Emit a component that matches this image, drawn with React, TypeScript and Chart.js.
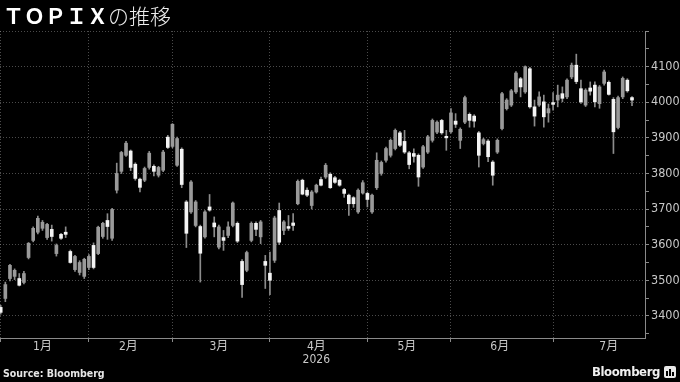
import React, { useEffect, useRef } from 'react';
import { Chart, registerables } from 'chart.js';

Chart.register(...registerables);

// Daily OHLC of TOPIX, trading days Jan–Jul 2026 (index = trading day)
const opens = [
  // Jan
  3424, 3449, 3505, 3511, 3505, 3494, 3564, 3612, 3635, 3646, 3620, 3643, 3575, 3629, 3635, 3581, 3530, 3522, 3511,
  // Feb
  3536, 3598, 3575, 3623, 3668, 3618, 3753, 3806, 3851, 3863, 3826, 3784, 3781, 3817, 3820, 3795, 3809, 3902,
  // Mar
  3876, 3823, 3868, 3720, 3692, 3654, 3651, 3622, 3706, 3661, 3593, 3620, 3626, 3654, 3660, 3553, 3528, 3612, 3660, 3622, 3553,
  // Apr
  3520, 3556, 3696, 3640, 3651, 3661, 3715, 3781, 3753, 3710, 3748, 3783, 3790, 3798, 3788, 3781, 3755, 3739, 3732, 3692, 3745,
  // May
  3744, 3692, 3760, 3800, 3837, 3851, 3870, 3914, 3890, 3858, 3856, 3851, 3818, 3860, 3893, 3916, 3949, 3904,
  // Jun
  3917, 3947, 3893, 3944, 3966, 3961, 3914, 3884, 3891, 3832, 3860, 3926, 3982, 3992, 4029, 4066, 4029, 4094, 3987, 3992, 4001, 3970,
  // Jul
  3999, 4006, 4024, 4015, 4071, 4104, 4038, 3992, 4040, 4048, 3996, 4053, 4056, 4008, 3929, 4015, 4062, 4013,
];
const highs = [
  3430, 3495, 3545, 3532, 3519, 3525, 3606, 3650, 3680, 3668, 3660, 3655, 3602, 3632, 3650, 3585, 3570, 3555, 3562,
  3572, 3605, 3652, 3663, 3687, 3702, 3829, 3862, 3890, 3866, 3830, 3787, 3818, 3862, 3824, 3820, 3865, 3907,
  3940, 3902, 3872, 3724, 3780, 3724, 3655, 3696, 3741, 3678, 3655, 3640, 3664, 3720, 3664, 3558, 3582, 3664, 3664, 3668, 3570,
  3579, 3680, 3717, 3668, 3682, 3687, 3782, 3784, 3760, 3752, 3770, 3790, 3828, 3802, 3792, 3784, 3758, 3742, 3735, 3757, 3780,
  3748, 3742, 3858, 3835, 3874, 3897, 3925, 3918, 3921, 3862, 3869, 3855, 3879, 3907, 3953, 3948, 3952, 3921,
  3982, 3968, 3928, 4017, 3970, 3965, 3918, 3899, 3895, 3836, 3897, 4028, 4010, 4036, 4086, 4070, 4102, 4098, 4006, 4029, 4020, 3995,
  4027, 4048, 4043, 4066, 4110, 4135, 4062, 4038, 4057, 4057, 4047, 4090, 4060, 4013, 4017, 4071, 4066, 4016,
];
const lows = [
  3405, 3440, 3498, 3502, 3484, 3490, 3560, 3608, 3630, 3640, 3615, 3610, 3568, 3615, 3620, 3548, 3525, 3515, 3505,
  3530, 3532, 3572, 3618, 3615, 3612, 3745, 3800, 3848, 3808, 3781, 3748, 3777, 3812, 3793, 3790, 3805, 3870,
  3872, 3820, 3760, 3592, 3688, 3650, 3495, 3618, 3694, 3622, 3588, 3584, 3620, 3650, 3606, 3452, 3524, 3608, 3625, 3603, 3477,
  3460, 3550, 3600, 3628, 3640, 3640, 3712, 3740, 3735, 3700, 3745, 3765, 3786, 3758, 3772, 3764, 3733, 3682, 3705, 3688, 3742,
  3706, 3688, 3755, 3795, 3832, 3846, 3866, 3875, 3856, 3813, 3832, 3764, 3814, 3856, 3888, 3912, 3910, 3865,
  3913, 3929, 3870, 3940, 3930, 3930, 3818, 3880, 3833, 3767, 3856, 3922, 3978, 3988, 4025, 4015, 4025, 3983, 3933, 3988, 3930, 3944,
  3978, 3987, 4001, 4010, 4066, 4052, 3997, 3988, 4020, 3987, 3983, 4048, 4020, 3856, 3925, 4010, 4028, 3990,
];
const closes = [
  3410, 3488, 3542, 3528, 3486, 3519, 3604, 3646, 3674, 3663, 3657, 3623, 3598, 3618, 3629, 3550, 3567, 3550, 3559,
  3567, 3536, 3649, 3660, 3651, 3699, 3800, 3859, 3885, 3817, 3786, 3761, 3814, 3857, 3806, 3817, 3860, 3873,
  3938, 3898, 3769, 3632, 3776, 3720, 3576, 3692, 3697, 3650, 3650, 3612, 3650, 3717, 3610, 3488, 3578, 3660, 3643, 3664, 3542,
  3500, 3675, 3607, 3664, 3646, 3654, 3778, 3742, 3739, 3748, 3767, 3767, 3823, 3760, 3775, 3767, 3744, 3715, 3715, 3753, 3774,
  3727, 3739, 3837, 3831, 3870, 3893, 3921, 3879, 3860, 3825, 3848, 3790, 3875, 3903, 3949, 3944, 3914, 3900,
  3970, 3938, 3924, 4013, 3949, 3947, 3851, 3895, 3847, 3795, 3893, 4024, 4006, 4032, 4082, 4043, 4100, 3987, 3961, 4015, 3959, 3982,
  3994, 4020, 4011, 4062, 4104, 4058, 4001, 4034, 4031, 4001, 4043, 4085, 4022, 3917, 4013, 4067, 4032, 4006,
];

// first trading day index of each month, and where each month label sits
const monthStartIdx = [0, 19, 37, 58, 79, 97, 119];
const monthLabelIdx = [9, 27.5, 47, 68, 87.5, 107.5, 131];
const monthLabels = ['1月', '2月', '3月', '4月', '5月', '6月', '7月'];
const yearLabel = '2026';
const yearUnderMonth = '4月';

const yTicks = [3350, 3400, 3450, 3500, 3550, 3600, 3650, 3700, 3750, 3800, 3850, 3900, 3950, 4000, 4050, 4100, 4150, 4200];
const yLabelled = [3400, 3500, 3600, 3700, 3800, 3900, 4000, 4100];
const yGrid = [3400, 3500, 3600, 3700, 3800, 3900, 4000, 4100, 4200];

const title1 = 'ＴＯＰＩＸ';
const title2 = 'の推移';
const source = 'Source: Bloomberg';

const UP = '#9a9a9a';
const DOWN = '#f4f4f4';

export default function App() {
  const ref = useRef<HTMLCanvasElement | null>(null);

  useEffect(() => {
    document.body.style.margin = '0';
    const canvas = ref.current;
    if (!canvas) return;
    const wickData = highs.map((h, i) => ({ x: i, y: [lows[i], h] }));
    const bodyData = opens.map((o, i) => ({ x: i, y: [o, closes[i]] }));

    const chart = new Chart(canvas, {
      type: 'bar',
      data: {
        datasets: [
          {
            data: bodyData as any,
            barThickness: 3,
            minBarLength: 1.5,
            grouped: false,
            order: 0,
            backgroundColor: (ctx: any) => {
              const i = ctx.dataIndex;
              return closes[i] >= opens[i] ? UP : DOWN;
            },
            borderWidth: 0,
          } as any,
          {
            data: wickData as any,
            barThickness: 1,
            grouped: false,
            order: 1,
            backgroundColor: '#8c8c8c',
            borderWidth: 0,
          } as any,
        ],
      },
      options: {
        responsive: false,
        animation: false,
        events: [],
        layout: { padding: { top: 31, bottom: 16, left: 0, right: 0 } },
        plugins: { legend: { display: false }, tooltip: { enabled: false } },
        scales: {
          x: {
            type: 'linear',
            offset: false,
            min: -0.15,
            max: 138.8,
            afterBuildTicks: (scale: any) => {
              const vals = [...monthStartIdx, ...monthLabelIdx].sort((a, b) => a - b);
              scale.ticks = vals.map((v) => ({ value: v }));
            },
            afterFit: (scale: any) => {
              scale.height = 28;
            },
            grid: {
              offset: false,
              color: (ctx: any) =>
                ctx.tick && monthStartIdx.includes(ctx.tick.value) ? 'rgba(150,150,150,0.5)' : 'rgba(0,0,0,0)',
              tickColor: (ctx: any) =>
                ctx.tick && monthStartIdx.includes(ctx.tick.value) ? '#8a8a8a' : 'rgba(0,0,0,0)',
              tickLength: 4,
              lineWidth: 1,
            },
            border: { display: true, color: '#8a8a8a', width: 1, dash: [1, 2] },
            ticks: {
              autoSkip: false,
              maxRotation: 0,
              padding: -2,
              color: '#c8c8c8',
              font: { family: "'DejaVu Sans Condensed', 'Noto Sans CJK JP', sans-serif", size: 12, lineHeight: 1.1 },
              callback: (value: any) => {
                const k = monthLabelIdx.indexOf(Number(value));
                if (k < 0) return '';
                const lab = monthLabels[k];
                return lab === yearUnderMonth ? [lab, yearLabel] : lab;
              },
            },
          } as any,
          y: {
            position: 'right',
            min: 3338,
            max: 4200,
            afterBuildTicks: (scale: any) => {
              scale.ticks = yTicks.map((v) => ({ value: v }));
            },
            afterFit: (scale: any) => {
              scale.width = 35;
            },
            grid: {
              color: (ctx: any) =>
                ctx.tick && yGrid.includes(ctx.tick.value) ? 'rgba(150,150,150,0.5)' : 'rgba(0,0,0,0)',
              tickColor: '#8a8a8a',
              tickLength: 4,
              lineWidth: 1,
            },
            border: { display: true, color: '#8a8a8a', width: 1, dash: [1, 2] },
            ticks: {
              autoSkip: false,
              padding: 2,
              color: '#c8c8c8',
              font: { family: "'DejaVu Sans Condensed', sans-serif", size: 12.5 },
              callback: (value: any) => (yLabelled.includes(Number(value)) ? String(value) : ''),
            },
          } as any,
        },
      },
    });
    return () => chart.destroy();
  }, []);

  return (
    <div
      style={{
        position: 'fixed',
        left: 0,
        top: 0,
        width: 680,
        height: 382,
        background: '#000',
        overflow: 'hidden',
      }}
    >
      <canvas ref={ref} width={680} height={382} style={{ position: 'absolute', left: 0, top: 0 }} />
      <div
        style={{
          position: 'absolute',
          left: 3,
          top: 1,
          fontFamily: "'Noto Sans CJK JP', sans-serif",
          fontSize: 21,
          lineHeight: '28px',
          color: '#fff',
          whiteSpace: 'nowrap',
        }}
      >
        <span style={{ fontWeight: 700 }}>{title1}</span>
        <span style={{ fontWeight: 300, color: '#eee' }}>{title2}</span>
      </div>
      <div
        style={{
          position: 'absolute',
          left: 3,
          top: 367,
          fontFamily: "'DejaVu Sans Condensed', 'DejaVu Sans', sans-serif",
          fontWeight: 700,
          fontSize: 10.5,
          color: '#e6e6e6',
          whiteSpace: 'nowrap',
        }}
      >
        {source}
      </div>
      <div
        style={{
          position: 'absolute',
          right: 20,
          top: 364,
          fontFamily: "'DejaVu Sans Condensed', 'DejaVu Sans', sans-serif",
          fontWeight: 700,
          fontSize: 13,
          color: '#f0f0f0',
          whiteSpace: 'nowrap',
          letterSpacing: -0.4,
        }}
      >
        Bloomberg
      </div>
      <div
        style={{
          position: 'absolute',
          left: 664,
          top: 366,
          width: 12,
          height: 12,
          background: '#e8e8e8',
          borderRadius: 2,
        }}
      >
        <div style={{ position: 'absolute', left: 2, top: 5, width: 2, height: 5, background: '#000' }} />
        <div style={{ position: 'absolute', left: 5, top: 3, width: 2, height: 7, background: '#000' }} />
        <div style={{ position: 'absolute', left: 8, top: 6, width: 2, height: 4, background: '#000' }} />
      </div>
    </div>
  );
}
